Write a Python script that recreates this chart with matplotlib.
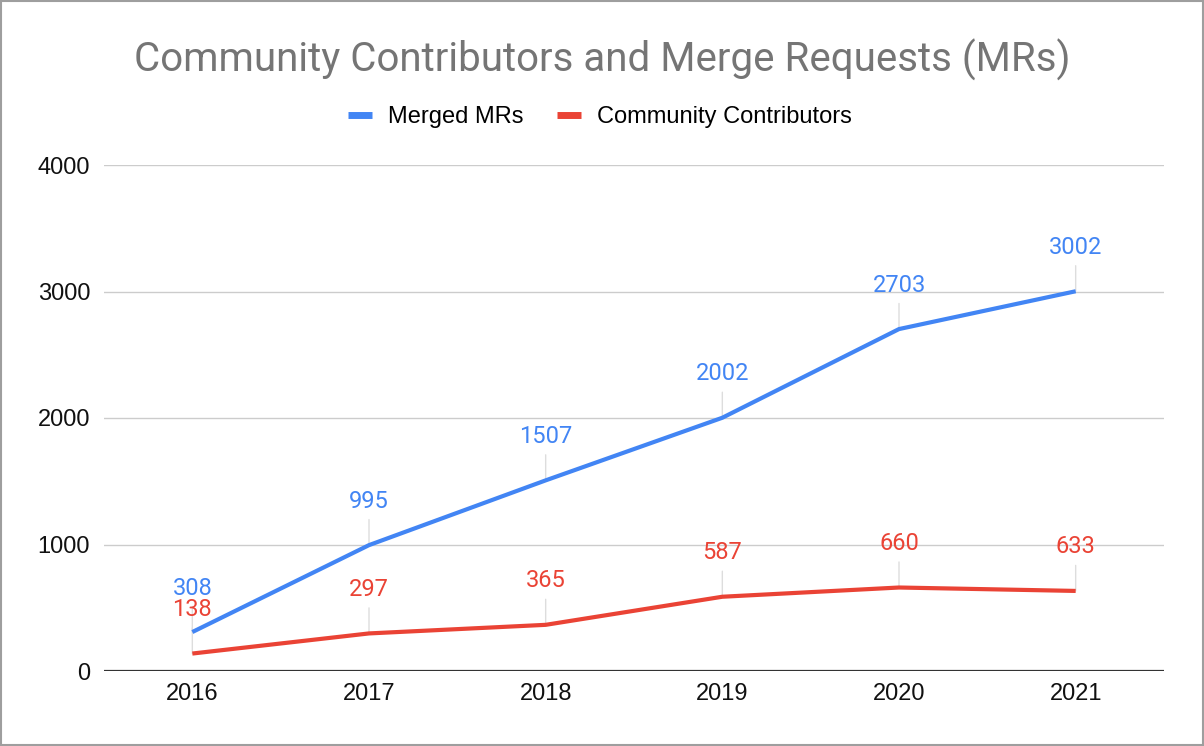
import matplotlib

matplotlib.use("Agg")
import matplotlib.pyplot as plt
from matplotlib.lines import Line2D
from matplotlib.patches import Rectangle

years = ["2016", "2017", "2018", "2019", "2020", "2021"]
merged_mrs = [308, 995, 1507, 2002, 2703, 3002]
contributors = [138, 297, 365, 587, 660, 633]
y_ticks = [0, 1000, 2000, 3000, 4000]

BLUE = "#4285F4"
RED = "#EA4335"

fig = plt.figure(figsize=(12.04, 7.46), dpi=100)
ax = fig.add_axes([104 / 1204, 1 - 671 / 746, 1060 / 1204, 506 / 746])

x = list(range(len(years)))
ax.plot(x, merged_mrs, color=BLUE, lw=3, zorder=3, solid_capstyle="butt")
ax.plot(x, contributors, color=RED, lw=3, zorder=3, solid_capstyle="butt")


def label_points(values, color):
    for xi, v in zip(x, values):
        ax.annotate(
            f"{v}",
            xy=(xi, v),
            xytext=(0, 44),
            textcoords="offset pixels",
            ha="center",
            va="center",
            color=color,
            fontsize=17,
            family="Roboto",
            zorder=2,
            arrowprops=dict(
                arrowstyle="-", color="#dddddd", lw=1, shrinkA=3, shrinkB=0
            ),
        )


label_points(merged_mrs, BLUE)
label_points(contributors, RED)

ax.set_xlim(-0.5, len(years) - 0.5)
ax.set_ylim(0, 4000)
ax.set_xticks(x)
ax.set_xticklabels(years)
ax.set_yticks(y_ticks)
ax.grid(axis="y", color="#cccccc", lw=1, zorder=0)
ax.axhline(0, color="#333333", lw=1.6, zorder=4)
for s in ax.spines.values():
    s.set_visible(False)
ax.tick_params(length=0, labelsize=17, colors="#111111")
ax.tick_params(axis="x", pad=9)
ax.tick_params(axis="y", pad=10)
for lab in ax.get_xticklabels() + ax.get_yticklabels():
    lab.set_family("Liberation Sans")

fig.text(
    0.5,
    1 - 60 / 746,
    "Community Contributors and Merge Requests (MRs)",
    ha="center",
    va="center",
    fontsize=29,
    color="#757575",
    family="Roboto",
)

handles = [
    Line2D([], [], color=BLUE, lw=5, solid_capstyle="butt"),
    Line2D([], [], color=RED, lw=5, solid_capstyle="butt"),
]
fig.legend(
    handles,
    ["Merged MRs", "Community Contributors"],
    loc="center",
    bbox_to_anchor=(0.4985, 1 - 117 / 746),
    ncol=2,
    frameon=False,
    prop={"family": "Liberation Sans", "size": 17},
    handlelength=1.0,
    handletextpad=0.7,
    columnspacing=1.4,
)

fig.patches.append(
    Rectangle(
        (0.001, 0.001),
        0.998,
        0.997,
        transform=fig.transFigure,
        fill=False,
        edgecolor="#9e9e9e",
        lw=1.5,
    )
)

fig.savefig("out.png", dpi=100)
